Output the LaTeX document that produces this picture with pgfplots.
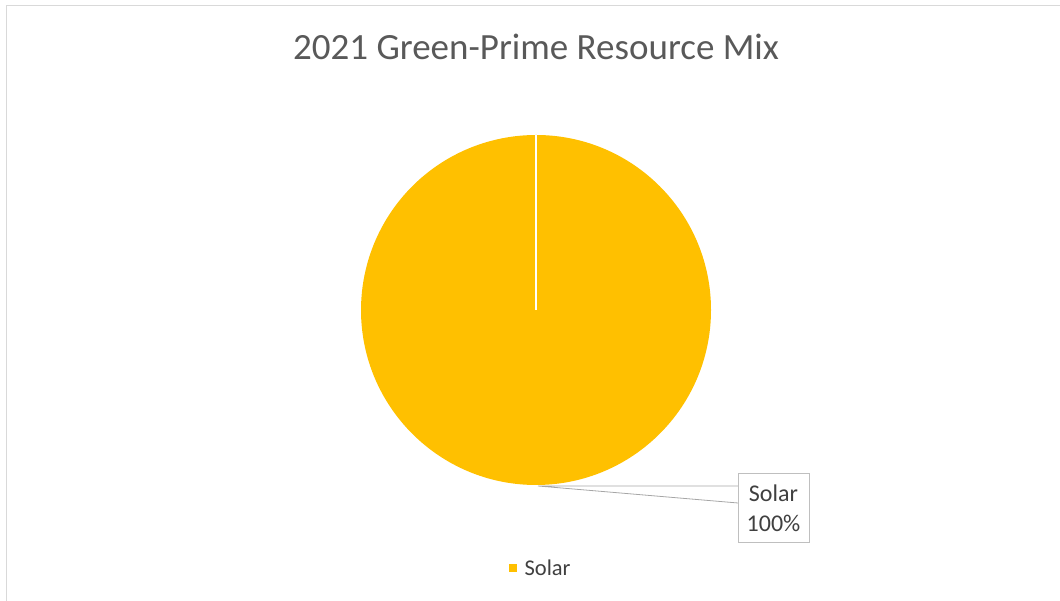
\documentclass[border=0pt]{standalone}
\usepackage{pgfplots}
\usepackage{pgfplotstable}
\pgfplotsset{compat=1.18}
\usepackage{fontspec}
\setmainfont{Carlito}
\definecolor{pie}{HTML}{FFC000}
\definecolor{titlegray}{HTML}{595959}
\definecolor{lblgray}{HTML}{404040}
\definecolor{framegray}{HTML}{D9D9D9}
\definecolor{boxgray}{HTML}{BFBFBF}
\definecolor{leadgray}{HTML}{A6A6A6}
\pgfplotstableread{
name value
Solar 100
}\piedata
\begin{document}
\begin{tikzpicture}
\pgfplotstablegetelem{0}{value}\of\piedata
\let\solarval\pgfplotsretval
\pgfplotstablegetelem{0}{name}\of\piedata
\let\solarname\pgfplotsretval
\pgfmathsetmacro\solarang{3.6*\solarval}
\begin{axis}[
  width=1060pt, height=601pt, scale only axis,
  xmin=0, xmax=1060, ymin=0, ymax=601,
  hide axis, clip=false,
  legend style={at={(axis cs:509,33)}, anchor=west, draw=none, fill=none,
    inner sep=0pt, font=\fontsize{22.5}{26}\selectfont, text=lblgray,
    /tikz/every even column/.append style={column sep=0pt}},
]
\addlegendimage{legend image code/.code={\fill[pie] (0pt,-3.5pt) rectangle (7pt,3.5pt);}}
\addlegendentry{\hspace{6pt}\solarname}
% frame
\draw[framegray, line width=1.5pt] (axis cs:6.5,0) -- (axis cs:6.5,595.5) -- (axis cs:1060,595.5);
% title
\node[text=titlegray, font=\fontsize{37}{40}\selectfont, anchor=base] at (axis cs:536,541) {2021 Green-Prime Resource Mix};
% pie slice
\fill[pie] (axis cs:536,291) -- ++(90:175pt) arc[start angle=90, end angle=90-\solarang, radius=175pt] -- cycle;
\draw[white, line width=2pt] (axis cs:536,291) -- ++(90:175pt);
% leader line
\draw[leadgray, line width=0.8pt] (axis cs:738,115) -- (axis cs:538,115) -- (axis cs:738,98);
% data label
\draw[boxgray, line width=1pt, fill=white] (axis cs:738,127) rectangle (axis cs:809,58);
\node[text=lblgray, font=\fontsize{24}{30}\selectfont, align=center] at (axis cs:773.5,92.5) {\solarname\\\solarval\%};
\end{axis}
\pgfresetboundingbox
\path (current axis.south west) rectangle (current axis.north east);
\end{tikzpicture}
\end{document}
